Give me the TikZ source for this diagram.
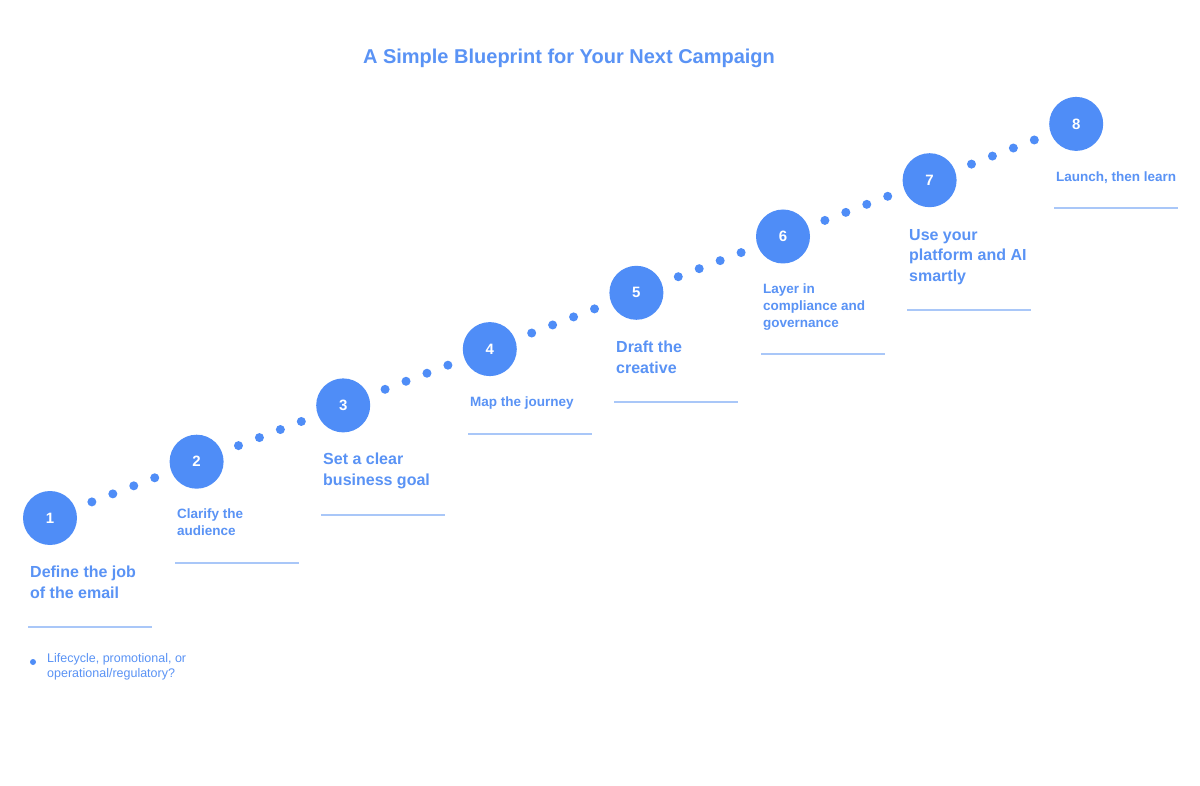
\documentclass[tikz,border=0pt]{standalone}
\usepackage{fontspec}
\setmainfont{Liberation Sans}
\usetikzlibrary{calc}
\definecolor{stepblue}{HTML}{4F8DF7}
\definecolor{textblue}{HTML}{5A93F5}
\definecolor{ruleblue}{HTML}{A9C7F8}
\tikzset{
    stepdot/.style={circle,fill=stepblue,minimum size=54pt,inner sep=0pt,text=white,font=\bfseries\fontsize{15}{17}\selectfont},
    smalldot/.style={circle,fill=stepblue,minimum size=9pt,inner sep=0pt},
    biglabel/.style={anchor=north west,inner sep=0pt,align=left,text=textblue,font=\bfseries\fontsize{16}{20.5}\selectfont},
    smalllabel/.style={anchor=north west,inner sep=0pt,align=left,text=textblue,font=\bfseries\fontsize{13.5}{17}\selectfont},
    steprule/.style={draw=ruleblue,line width=1.2pt}
}
\begin{document}
\begin{tikzpicture}[x=1pt,y=-1pt]
            \useasboundingbox[fill=white] (0,0) rectangle (1200,786);
            \node[text=textblue,font=\bfseries\fontsize{20}{24}\selectfont] (title) at (569,58) {A Simple Blueprint for Your Next Campaign};
            % steps
            \node at (50,518)[stepdot] (c1) {1};
            \node at (196.6,461.7)[stepdot] (c2) {2};
            \node at (343.2,405.4)[stepdot] (c3) {3};
            \node at (489.8,349.1)[stepdot] (c4) {4};
            \node at (636.4,292.8)[stepdot] (c5) {5};
            \node at (783,236.5)[stepdot] (c6) {6};
            \node at (929.6,180.2)[stepdot] (c7) {7};
            \node at (1076.2,123.9)[stepdot] (c8) {8};
            % dotted path
            \foreach \a/\b in {1/2,2/3,3/4,4/5,5/6,6/7,7/8}
                \foreach \k in {2,...,5}
                    \node[smalldot] (d\a-\k) at ($(c\a)!\k/7!(c\b)$) {};
            % labels
            \node[biglabel] (l1) at (30,566) {Define the job\\of the email};
            \node[smalllabel] (l2) at (177,509) {Clarify the\\audience};
            \node[biglabel] (l3) at (323,453) {Set a clear\\business goal};
            \node[smalllabel] (l4) at (470,397) {Map the journey};
            \node[biglabel] (l5) at (616,341) {Draft the\\creative};
            \node[smalllabel] (l6) at (763,284) {Layer in\\compliance and\\governance};
            \node[biglabel] (l7) at (909,229) {Use your\\platform and AI\\smartly};
            \node[smalllabel] (l8) at (1056,172) {Launch, then learn};
            % rules
            \draw[steprule] (28,627) -- ++(124,0);
            \draw[steprule] (175,563) -- ++(124,0);
            \draw[steprule] (321,515) -- ++(124,0);
            \draw[steprule] (468,434) -- ++(124,0);
            \draw[steprule] (614,402) -- ++(124,0);
            \draw[steprule] (761,354) -- ++(124,0);
            \draw[steprule] (907,310) -- ++(124,0);
            \draw[steprule] (1054,208) -- ++(124,0);
            % bullet
            \node at (33,662)[circle,fill=stepblue,minimum size=6pt,inner sep=0pt] (b1) {};
            \node[anchor=north west,inner sep=0pt,align=left,text=textblue,font=\fontsize{12.5}{15}\selectfont] (t1) at (47,653) {Lifecycle, promotional, or\\operational/regulatory?};
        \end{tikzpicture}
\end{document}
